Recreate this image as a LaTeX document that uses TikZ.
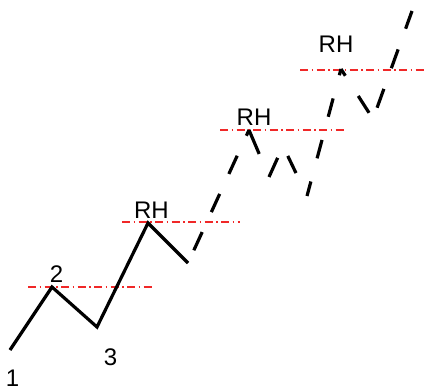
\documentclass[tikz,border=0pt]{standalone}
\usepackage{fontspec}
\setmainfont{Liberation Sans}
\definecolor{lvlred}{RGB}{240,40,40}
\begin{document}
\begin{tikzpicture}[x=1pt,y=-1pt,
  wave/.style={line width=3.2pt,black,line join=miter},
  level/.style={line width=1.5pt,lvlred,dash pattern=on 8pt off 3.5pt on 1.5pt off 3.5pt},
  lbl/.style={inner sep=0pt,font=\fontsize{24}{28}\selectfont}]
\useasboundingbox (0,0) rectangle (427,390);
% wave points
\coordinate (p1) at (10,350);
\coordinate (p2) at (52,287);
\coordinate (p3) at (97,327);
\coordinate (p4) at (148,223);
\coordinate (p5) at (188,263);
\coordinate (q1) at (249,130);
\coordinate (q2) at (269,177);
\coordinate (q3) at (283,146);
\coordinate (q4) at (307,196);
\coordinate (q5) at (341,69);
\coordinate (q6) at (373,119);
\coordinate (q7) at (412,11);
% level lines
\coordinate (l1a) at (28,287); \coordinate (l1b) at (155,287);
\coordinate (l2a) at (122,222); \coordinate (l2b) at (240,222);
\coordinate (l3a) at (220,130); \coordinate (l3b) at (347,130);
\coordinate (l4a) at (300,70); \coordinate (l4b) at (427,70);
\draw[level] (l1a) -- (l1b);
\draw[level] (l2a) -- (l2b);
\draw[level] (l3a) -- (l3b);
\draw[level] (l4a) -- (l4b);
\draw[wave] (p1) -- (p2) -- (p3) -- (p4) -- (p5);
\draw[wave,dash pattern=on 20pt off 22pt,dash phase=28pt] (p5) -- (q1);
\draw[wave,dash pattern=on 26pt off 40pt] (q1) -- (q2);
\draw[wave,dash pattern=on 21pt off 30pt] (q2) -- (q3);
\draw[wave,dash pattern=on 19pt off 40pt,dash phase=48pt] (q3) -- (q4);
\draw[wave,dash pattern=on 19pt off 24pt,dash phase=4pt] (q4) -- (q5);
\draw[wave,dash pattern=on 20pt off 24pt,dash phase=12pt] (q5) -- (q6);
\draw[wave,dash pattern=on 20pt off 22pt,dash phase=30pt] (q6) -- (q7);
% labels
\node[lbl] (n1) at (12.5,378.5) {1};
\node[lbl] (n2) at (56.5,274) {2};
\node[lbl] (n3) at (110.5,357.5) {3};
\node[lbl] (rh1) at (151.5,210) {RH};
\node[lbl] (rh2) at (254,117) {RH};
\node[lbl] (rh3) at (336,44) {RH};
\end{tikzpicture}
\end{document}
